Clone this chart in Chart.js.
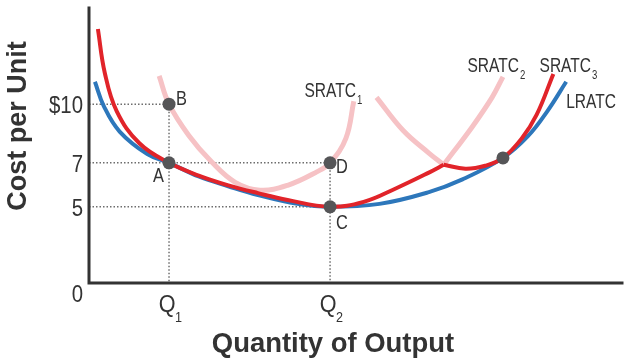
<!DOCTYPE html>
<html>
<head>
<meta charset="utf-8">
<script src="https://cdn.jsdelivr.net/npm/chart.js@4.4.1/dist/chart.umd.min.js"></script>
<style>
html, body { margin: 0; padding: 0; background: #fff; }
</style>
</head>
<body>
<canvas id="grafico-costos" width="630" height="364"></canvas>
<script>
// Unidades del gráfico: x = distancia desde el eje vertical, y = altura sobre el eje horizontal
const xTickPos = [81, 244];
const xTickLabels = ['Q', 'Q'];
const xTickSubs = ['1', '2'];
const yTickPos = [0, 78, 123, 183];
const yTickLabels = ['0', '5', '7', '$10'];

// Curva de costo medio a largo plazo (azul)
const lratc = [
    {x: 6, y: 206}, {x: 15, y: 181}, {x: 31, y: 155}, {x: 59, y: 132}, {x: 81, y: 123},
    {x: 111, y: 109}, {x: 141, y: 99}, {x: 171, y: 90}, {x: 211, y: 81}, {x: 244, y: 78},
    {x: 294, y: 81}, {x: 344, y: 93}, {x: 378, y: 106}, {x: 419, y: 128}, {x: 444, y: 150},
    {x: 464, y: 176}, {x: 483, y: 206}
];

// Envolvente de las curvas de corto plazo (roja), en dos tramos
const envolvente1 = [
    {x: 9, y: 260}, {x: 16, y: 215}, {x: 28, y: 176}, {x: 51, y: 143}, {x: 81, y: 123},
    {x: 111, y: 110}, {x: 141, y: 100}, {x: 171, y: 92}, {x: 201, y: 85}, {x: 244, y: 78},
    {x: 278, y: 83}, {x: 311, y: 97}, {x: 344, y: 113}, {x: 359, y: 121}
];
const envolvente2 = [
    {x: 359, y: 121}, {x: 381, y: 117}, {x: 401, y: 120}, {x: 419, y: 128}, {x: 438, y: 148},
    {x: 453, y: 172}, {x: 470, y: 214}
];

// Partes claras de las curvas de corto plazo
const sratc1 = [
    {x: 71, y: 212}, {x: 81, y: 183}, {x: 101, y: 151}, {x: 124, y: 124}, {x: 148, y: 103},
    {x: 173, y: 95}, {x: 201, y: 100}, {x: 231, y: 114}, {x: 244, y: 123}, {x: 260, y: 148},
    {x: 268, y: 186}
];
const sratc2 = [{x: 359, y: 121}, {x: 388, y: 160}, {x: 408, y: 190}, {x: 419, y: 211}];
const sratc3 = [{x: 291, y: 190}, {x: 318, y: 156}, {x: 344, y: 133}, {x: 359, y: 121}];

// Puntos marcados
const puntos = [{x: 81, y: 123}, {x: 81, y: 183}, {x: 244, y: 78}, {x: 244, y: 123}, {x: 419, y: 128}];
const puntosLabels = ['A', 'B', 'C', 'D', ''];

// Líneas punteadas de referencia
const guiaB = [{x: 0, y: 183}, {x: 81, y: 183}, {x: 81, y: 0}];
const guiaD = [{x: 0, y: 123}, {x: 244, y: 123}, {x: 244, y: 0}];
const guiaC = [{x: 0, y: 78}, {x: 244, y: 78}];

// Etiquetas de las curvas: [texto, subíndice, x, y]
const curvasLabels = [
    ['SRATC', '1', 218, 190],
    ['SRATC', '2', 383, 216],
    ['SRATC', '3', 456, 216],
    ['LRATC', '', 483, 179]
];

const ROJO = '#e1242a';
const AZUL = '#2d77bb';
const ROSA = '#f6c2c5';
const TEXTO = '#333333';

function escribir(ctx, str, x, y, size, k, align, bold) {
    ctx.save();
    ctx.font = (bold ? 'bold ' : '') + size + 'px "Liberation Sans", Arial, sans-serif';
    ctx.textBaseline = 'alphabetic';
    ctx.fillStyle = TEXTO;
    ctx.translate(x, y);
    ctx.scale(k, 1);
    const w = ctx.measureText(str).width;
    const dx = align === 'right' ? -w : align === 'center' ? -w / 2 : 0;
    ctx.fillText(str, dx, 0);
    ctx.restore();
    return w * k;
}

const textos = {
    id: 'textos',
    afterDraw(chart) {
        const ctx = chart.ctx;
        const xs = chart.scales.x;
        const ys = chart.scales.y;
        const area = chart.chartArea;

        // Ejes
        ctx.save();
        ctx.strokeStyle = '#333';
        ctx.lineWidth = 3;
        ctx.beginPath();
        ctx.moveTo(area.left, area.top);
        ctx.lineTo(area.left, area.bottom);
        ctx.lineTo(area.right, area.bottom);
        ctx.stroke();
        ctx.restore();

        // Marcas del eje y
        yTickPos.forEach((v, i) => {
            const py = ys.getPixelForValue(v) + (v === 0 ? 19 : 9);
            escribir(ctx, yTickLabels[i], area.left - 6, py, 24, 0.85, 'right');
        });

        // Marcas del eje x con subíndice
        xTickPos.forEach((v, i) => {
            const px = xs.getPixelForValue(v);
            escribir(ctx, xTickLabels[i], px - 2, area.bottom + 29, 24, 0.9, 'center');
            escribir(ctx, xTickSubs[i], px + 6, area.bottom + 39, 14, 0.9, 'left');
        });

        // Títulos de los ejes
        escribir(ctx, 'Quantity of Output', 333, 352, 28, 0.98, 'center', true);
        ctx.save();
        ctx.translate(26, 126);
        ctx.rotate(-Math.PI / 2);
        escribir(ctx, 'Cost per Unit', 0, 0, 27, 1, 'center', true);
        ctx.restore();

        // Letras de los puntos
        const offs = {A: [-16, 19], B: [7, 1], C: [6, 22], D: [6, 10]};
        puntos.forEach((p, i) => {
            const l = puntosLabels[i];
            if (!l) return;
            const px = xs.getPixelForValue(p.x) + offs[l][0];
            const py = ys.getPixelForValue(p.y) + offs[l][1];
            escribir(ctx, l, px, py, 21, 0.78, 'left');
        });

        // Etiquetas de las curvas
        curvasLabels.forEach(c => {
            const px = xs.getPixelForValue(c[2]);
            const py = ys.getPixelForValue(c[3]);
            const w = escribir(ctx, c[0], px, py, 21, 0.74, 'left');
            if (c[1]) escribir(ctx, c[1], px + w + 1, py + 7, 12, 0.8, 'left');
        });
    }
};

function curva(data, color, ancho, orden) {
    return {
        data: data,
        borderColor: color,
        borderWidth: ancho,
        pointRadius: 0,
        tension: 0.4,
        fill: false,
        order: orden
    };
}

function guia(data) {
    return {
        data: data,
        borderColor: '#6d6d6d',
        borderWidth: 1.5,
        borderDash: [1.5, 2],
        pointRadius: 0,
        tension: 0,
        fill: false,
        order: 5
    };
}

const ctxCostos = document.getElementById('grafico-costos').getContext('2d');
new Chart(ctxCostos, {
    type: 'line',
    data: {
        datasets: [
            {
                data: puntos,
                showLine: false,
                pointRadius: 6.5,
                pointBackgroundColor: '#555557',
                pointBorderWidth: 0,
                order: 0
            },
            curva(envolvente1, ROJO, 4, 1),
            curva(envolvente2, ROJO, 4, 1),
            curva(lratc, AZUL, 4, 2),
            curva(sratc1, ROSA, 5, 3),
            curva(sratc2, ROSA, 5, 3),
            curva(sratc3, ROSA, 5, 3),
            guia(guiaB),
            guia(guiaD),
            guia(guiaC)
        ]
    },
    options: {
        responsive: false,
        animation: false,
        devicePixelRatio: 1,
        layout: { padding: { left: 89, top: 0, right: 0, bottom: 81 } },
        plugins: {
            legend: { display: false },
            tooltip: { enabled: false }
        },
        scales: {
            x: { type: 'linear', min: 0, max: 541, display: false },
            y: { type: 'linear', min: 0, max: 283, display: false }
        }
    },
    plugins: [textos]
});
</script>
</body>
</html>
